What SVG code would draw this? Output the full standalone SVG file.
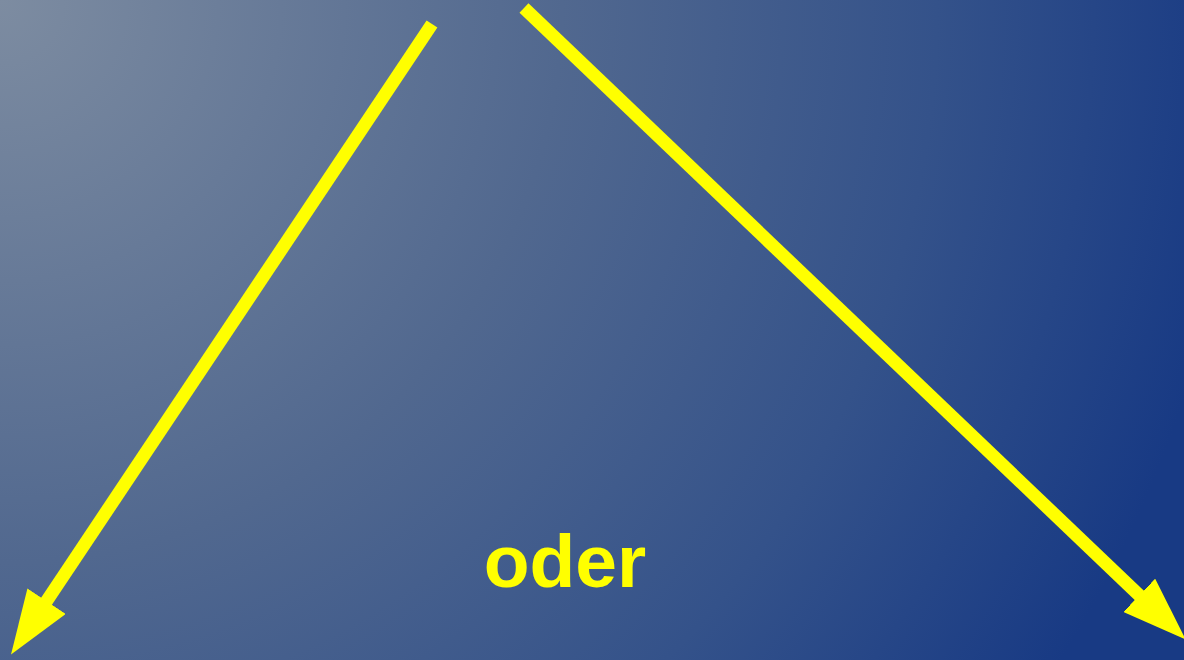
<svg xmlns="http://www.w3.org/2000/svg" width="1184" height="660" viewBox="0 0 1184 660">
  <defs>
    <radialGradient id="bg" cx="0" cy="0" r="1250" gradientUnits="userSpaceOnUse">
      <stop offset="0" stop-color="#7d8ca1"/>
      <stop offset="0.45" stop-color="#51688f"/>
      <stop offset="0.75" stop-color="#34528a"/>
      <stop offset="1" stop-color="#183a84"/>
    </radialGradient>
    <marker id="arrow" viewBox="0 0 64 46" refX="1" refY="23" markerWidth="64" markerHeight="46" markerUnits="userSpaceOnUse" orient="auto">
      <path d="M0,0 L64,23 L0,46 Z" fill="#ffff00"/>
    </marker>
    <style>
      .conn { stroke: #ffff00; stroke-width: 13; fill: none; }
      .label { font-family: "Liberation Sans", Arial, sans-serif; font-weight: bold; font-size: 75px; fill: #ffff00; }
    </style>
  </defs>
  <rect x="0" y="0" width="1184" height="660" fill="url(#bg)"/>
  <g id="connectors">
    <line class="conn" x1="432" y1="24" x2="46" y2="602" marker-end="url(#arrow)"/>
    <line class="conn" x1="524" y1="8" x2="1140" y2="596" marker-end="url(#arrow)"/>
  </g>
  <g id="label-oder">
    <text class="label" x="565" y="587" text-anchor="middle">oder</text>
  </g>
</svg>
